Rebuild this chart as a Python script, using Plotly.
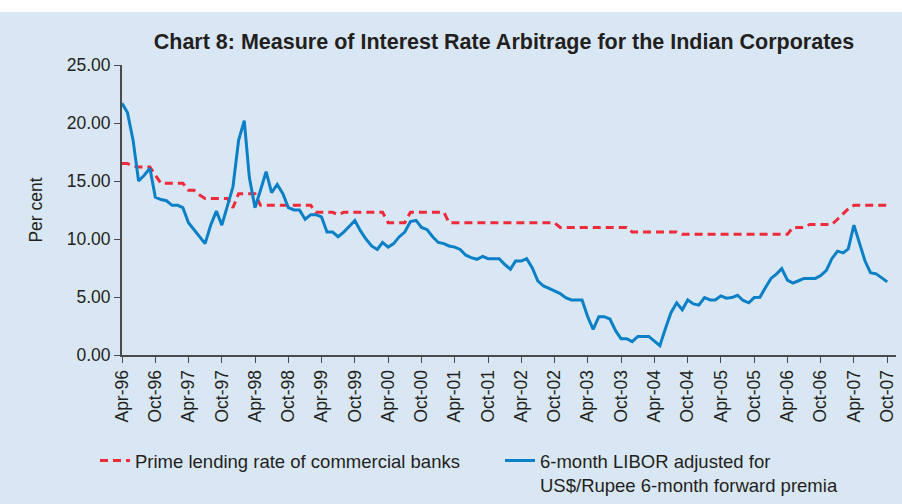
import plotly.graph_objects as go
import pandas as pd

months = pd.date_range("1996-04-01", "2007-10-01", freq="MS")

plr = [16.5, 16.5, 16.3, 16.2, 16.2, 16.2, 15.5, 14.8, 14.8, 14.8,
       14.8, 14.8, 14.2, 14.2, 13.8, 13.5, 13.5, 13.5, 13.5, 13.5,
       12.7, 13.9, 13.9, 13.9, 13.9, 12.9, 12.9, 12.9, 12.9, 12.9,
       12.9, 12.9, 12.9, 12.9, 12.9, 12.3, 12.3, 12.3, 12.3, 12.1,
       12.3, 12.3, 12.3, 12.3, 12.3, 12.3, 12.3, 12.3, 11.4, 11.4,
       11.4, 11.4, 12.3, 12.3, 12.3, 12.3, 12.3, 12.3, 12.3, 11.4,
       11.4, 11.4, 11.4, 11.4, 11.4, 11.4, 11.4, 11.4, 11.4, 11.4,
       11.4, 11.4, 11.4, 11.4, 11.4, 11.4, 11.4, 11.4, 11.4, 11.0,
       11.0, 11.0, 11.0, 11.0, 11.0, 11.0, 11.0, 11.0, 11.0, 11.0,
       11.0, 11.0, 10.6, 10.6, 10.6, 10.6, 10.6, 10.6, 10.6, 10.6,
       10.6, 10.4, 10.4, 10.4, 10.4, 10.4, 10.4, 10.4, 10.4, 10.4,
       10.4, 10.4, 10.4, 10.4, 10.4, 10.4, 10.4, 10.4, 10.4, 10.4,
       10.4, 11.0, 11.0, 11.0, 11.25, 11.25, 11.25, 11.25, 11.25, 11.7,
       12.2, 12.6, 12.9, 12.9, 12.9, 12.9, 12.9, 12.9, 12.9]

libor = [21.7, 20.9, 18.5, 15.0, 15.5, 16.1, 13.6, 13.4, 13.3, 12.9,
         12.9, 12.7, 11.4, 10.8, 10.2, 9.6, 11.2, 12.4, 11.2, 12.8,
         14.5, 18.5, 20.2, 15.3, 12.7, 14.2, 15.8, 14.0, 14.7, 13.9,
         12.7, 12.5, 12.5, 11.7, 12.1, 12.1, 11.9, 10.6, 10.6, 10.2,
         10.6, 11.1, 11.6, 10.7, 10.0, 9.4, 9.1, 9.7, 9.3, 9.6,
         10.2, 10.6, 11.5, 11.6, 11.0, 10.8, 10.2, 9.7, 9.6, 9.4,
         9.3, 9.1, 8.6, 8.4, 8.25, 8.5, 8.3, 8.3, 8.3, 7.8,
         7.4, 8.1, 8.1, 8.3, 7.5, 6.4, 5.95, 5.75, 5.5, 5.3,
         4.95, 4.75, 4.75, 4.75, 3.3, 2.2, 3.3, 3.3, 3.1, 2.1,
         1.4, 1.4, 1.15, 1.6, 1.6, 1.6, 1.2, 0.8, 2.3, 3.65,
         4.5, 3.9, 4.75, 4.4, 4.3, 4.95, 4.75, 4.75, 5.1, 4.9,
         4.95, 5.15, 4.7, 4.5, 4.95, 4.97, 5.8, 6.6, 7.0, 7.45,
         6.45, 6.2, 6.4, 6.6, 6.6, 6.6, 6.85, 7.3, 8.3, 8.95,
         8.8, 9.15, 11.2, 9.6, 8.1, 7.1, 7.0, 6.65, 6.3]

BG = "#d9e7f4"
AXIS = "#4a4a4a"
TXT = "#231f20"

fig = go.Figure()
fig.add_trace(go.Scatter(
    x=months, y=plr, mode="lines",
    name="Prime lending rate of commercial banks",
    line=dict(color="#ee2a3b", width=3, dash="8px,5px"),
    legend="legend",
))
fig.add_trace(go.Scatter(
    x=months, y=libor, mode="lines",
    name="6-month LIBOR adjusted for<br>US$/Rupee 6-month forward premia",
    line=dict(color="#0b80c6", width=3),
    legend="legend2",
))

H = 504
W = 902
t, b, l, r = 65, 149, 122, 6
ph = H - t - b
pw = W - l - r

leg_common = dict(
    orientation="h",
    xref="container", yref="container",
    xanchor="left", yanchor="top",
    valign="top",
    font=dict(size=18.5, color=TXT),
    bgcolor="rgba(0,0,0,0)",
)

fig.update_layout(
    width=W, height=H,
    margin=dict(l=l, r=r, t=t, b=b, pad=0, autoexpand=False),
    paper_bgcolor=BG,
    plot_bgcolor=BG,
    font=dict(family="Liberation Sans, Arial, sans-serif", size=17.5, color=TXT),
    title=dict(
        text="<b>Chart 8: Measure of Interest Rate Arbitrage for the Indian Corporates</b>",
        x=504 / W, xanchor="center", xref="container",
        y=1 - 41 / H, yanchor="middle", yref="container",
        font=dict(size=21.5, color=TXT),
    ),
    showlegend=True,
    legend=dict(x=95 / W, y=1 - 442 / H, **leg_common),
    legend2=dict(x=500 / W, y=1 - 442 / H, **leg_common),
    xaxis=dict(
        type="date",
        range=["1996-04-01", "2007-11-18"],
        tick0="1996-04-01", dtick="M6",
        tickformat="%b-%y",
        tickangle=-90,
        ticks="outside", ticklen=6, tickwidth=1.2, tickcolor=AXIS,
        showline=True, linecolor=AXIS, linewidth=2,
        showgrid=False, zeroline=False,
        tickfont=dict(size=17.5, color=TXT),
    ),
    yaxis=dict(
        range=[0, 25],
        dtick=5, tick0=0,
        tickformat=".2f",
        ticks="outside", ticklen=6, tickwidth=1.2, tickcolor=AXIS,
        showline=True, linecolor=AXIS, linewidth=2,
        showgrid=False, zeroline=False,
        tickfont=dict(size=17.5, color=TXT),
        title=dict(text="Per cent", font=dict(size=17.5, color=TXT), standoff=20),
    ),
    shapes=[
        dict(type="rect", xref="paper", yref="paper", layer="above",
             x0=-(l + 5) / pw, x1=1 + (r + 5) / pw,
             y0=1 + (t - 12) / ph, y1=1 + (t + 5) / ph,
             fillcolor="white", line=dict(width=0)),
    ],
)

fig.write_html("out.html")
